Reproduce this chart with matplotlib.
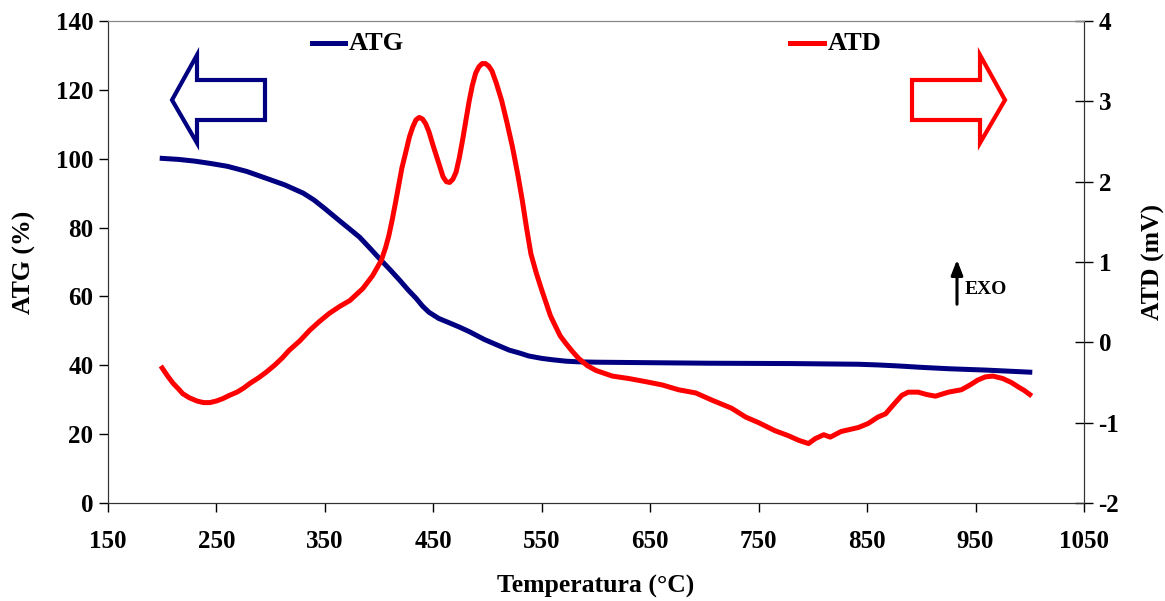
import matplotlib
matplotlib.use("Agg")
import matplotlib.pyplot as plt
from matplotlib.patches import Polygon, FancyArrowPatch
from matplotlib.lines import Line2D

plt.rcParams['font.family'] = ['Liberation Serif', 'DejaVu Serif']
plt.rcParams['font.weight'] = 'bold'

# ATG (%) - eje izquierdo
atg_temp = [200, 215, 230, 245, 260, 278, 296, 313, 330, 340, 350, 363, 372, 382, 391,
            400, 410, 419, 427, 434, 440, 446, 455, 465, 474, 483, 497, 511, 520, 529,
            538, 550, 560, 572, 584, 600, 650, 704, 780, 842, 860, 879, 900, 925, 960,
            1000]
atg_val = [100.1, 99.8, 99.3, 98.6, 97.8, 96.3, 94.3, 92.4, 90.0, 88.0, 85.5, 82.1,
           79.8, 77.2, 74.2, 71.1, 67.8, 64.7, 61.8, 59.5, 57.2, 55.4, 53.6, 52.3, 51.1,
           49.8, 47.5, 45.6, 44.4, 43.6, 42.7, 42.0, 41.6, 41.2, 41.0, 40.9, 40.75, 40.6,
           40.5, 40.3, 40.1, 39.8, 39.4, 39.0, 38.6, 38.0]

# ATD (mV) - eje derecho
atd_temp = [200, 205, 210, 215, 219, 225, 232, 238, 244, 250, 256, 262, 269, 275, 281,
            289, 296, 304, 311, 317, 327, 336, 345, 354, 364, 373, 385, 394, 402, 406,
            409, 412, 415, 418, 421, 425, 428, 431, 434, 437, 440, 443, 446, 450, 455,
            459, 462, 465, 468, 471, 474, 477, 480, 483, 486, 489, 492, 495, 498, 501,
            504, 508, 513, 518, 523, 528, 532, 536, 540, 545, 550, 554, 558, 563, 567,
            572, 578, 584, 592, 600, 615, 630, 646, 661, 676, 692, 707, 725, 738, 750,
            765, 777, 787, 796, 802, 810, 816, 826, 842, 851, 860, 867, 876, 882, 888,
            897, 905, 913, 925, 937, 945, 952, 959, 966, 975, 983, 990, 995, 1000]
atd_val = [-0.32, -0.42, -0.51, -0.58, -0.64, -0.69, -0.73, -0.75, -0.75, -0.73, -0.70,
           -0.66, -0.62, -0.57, -0.51, -0.44, -0.37, -0.28, -0.19, -0.10, 0.02, 0.15,
           0.26, 0.36, 0.45, 0.52, 0.67, 0.83, 1.02, 1.18, 1.33, 1.52, 1.73, 1.95, 2.17,
           2.39, 2.56, 2.68, 2.77, 2.80, 2.78, 2.72, 2.62, 2.44, 2.23, 2.06, 2.00, 1.99,
           2.03, 2.12, 2.30, 2.52, 2.76, 3.00, 3.20, 3.35, 3.43, 3.47, 3.47, 3.44, 3.38,
           3.23, 3.01, 2.73, 2.43, 2.08, 1.77, 1.42, 1.10, 0.86, 0.65, 0.49, 0.33, 0.19,
           0.08, -0.01, -0.11, -0.20, -0.29, -0.35, -0.42, -0.45, -0.49, -0.53, -0.59,
           -0.63, -0.72, -0.82, -0.93, -1.00, -1.10, -1.16, -1.22, -1.26, -1.20, -1.15,
           -1.18, -1.11, -1.06, -1.01, -0.93, -0.89, -0.75, -0.66, -0.62, -0.62, -0.65,
           -0.67, -0.62, -0.59, -0.53, -0.47, -0.43, -0.42, -0.45, -0.50, -0.56, -0.60,
           -0.65]

x_ticks = [150, 250, 350, 450, 550, 650, 750, 850, 950, 1050]
atg_ticks = [0, 20, 40, 60, 80, 100, 120, 140]
atd_ticks = [-2, -1, 0, 1, 2, 3, 4]

W, H = 1165, 601
fig = plt.figure(figsize=(W / 100, H / 100), dpi=100)
ax = fig.add_axes([108 / W, 1 - 503 / H, (1084 - 108) / W, (503 - 21) / H])
ax2 = ax.twinx()

blue = '#000080'
red = '#ff0000'
ax.plot(atg_temp, atg_val, color=blue, lw=3.6, solid_joinstyle='round')
ax2.plot(atd_temp, atd_val, color=red, lw=3.6, solid_joinstyle='round')

ax.set_xlim(150, 1050)
ax.set_ylim(0, 140)
ax2.set_ylim(-2, 4)
ax.set_xticks(x_ticks)
ax.set_yticks(atg_ticks)
ax2.set_yticks(atd_ticks)
ax2.set_yticklabels([str(t) for t in atd_ticks])

ax.tick_params(axis='both', direction='out', length=6.5, width=1, labelsize=18, pad=4)
ax.tick_params(axis='x', pad=13)
ax2.tick_params(axis='y', direction='inout', length=13, width=1, labelsize=18, pad=4)

for a in (ax, ax2):
    for s in a.spines.values():
        s.set_color('#333333')
    a.spines['top'].set_color('#888888')

ax.set_xlabel('Temperatura (°C)', fontsize=18.5, fontweight='bold', labelpad=16)
ax.set_ylabel('ATG (%)', fontsize=18.5, fontweight='bold', labelpad=14)
ax2.set_ylabel('ATD (mV)', fontsize=18.5, fontweight='bold', labelpad=16, rotation=90)


def px(pts):
    return [(x / W, 1 - y / H) for x, y in pts]


# leyendas
for (x0, x1), tx, col, lab in [((312, 345), 349, blue, 'ATG'), ((790, 824), 828, red, 'ATD')]:
    fig.add_artist(Line2D([x0 / W, x1 / W], [1 - 43 / H, 1 - 43 / H], color=col, lw=3.6,
                          transform=fig.transFigure))
    fig.text(tx / W, 1 - 44 / H, lab, fontsize=19, fontweight='bold', va='center', ha='left')

# flecha hueca izquierda (ATG)
left_arrow = [(265, 80), (197, 80), (197, 55), (172, 100), (197, 143), (197, 120), (265, 120)]
fig.patches.append(Polygon(px(left_arrow), closed=True, fill=False, ec=blue, lw=3,
                           transform=fig.transFigure, joinstyle='miter'))
# flecha hueca derecha (ATD)
right_arrow = [(912, 80), (980, 80), (980, 55), (1005, 100), (980, 143), (980, 120), (912, 120)]
fig.patches.append(Polygon(px(right_arrow), closed=True, fill=False, ec=red, lw=3,
                           transform=fig.transFigure, joinstyle='miter'))

# EXO
fig.add_artist(FancyArrowPatch(
    (957 / W, 1 - 307 / H), (957 / W, 1 - 257 / H), transform=fig.transFigure,
    arrowstyle='-|>,head_length=9,head_width=3.5', color='black', lw=2.2, mutation_scale=1))
fig.text(965 / W, 1 - 290 / H, 'EXO', fontsize=14, fontweight='bold', va='center', ha='left')

fig.savefig('out.png', dpi=100)
